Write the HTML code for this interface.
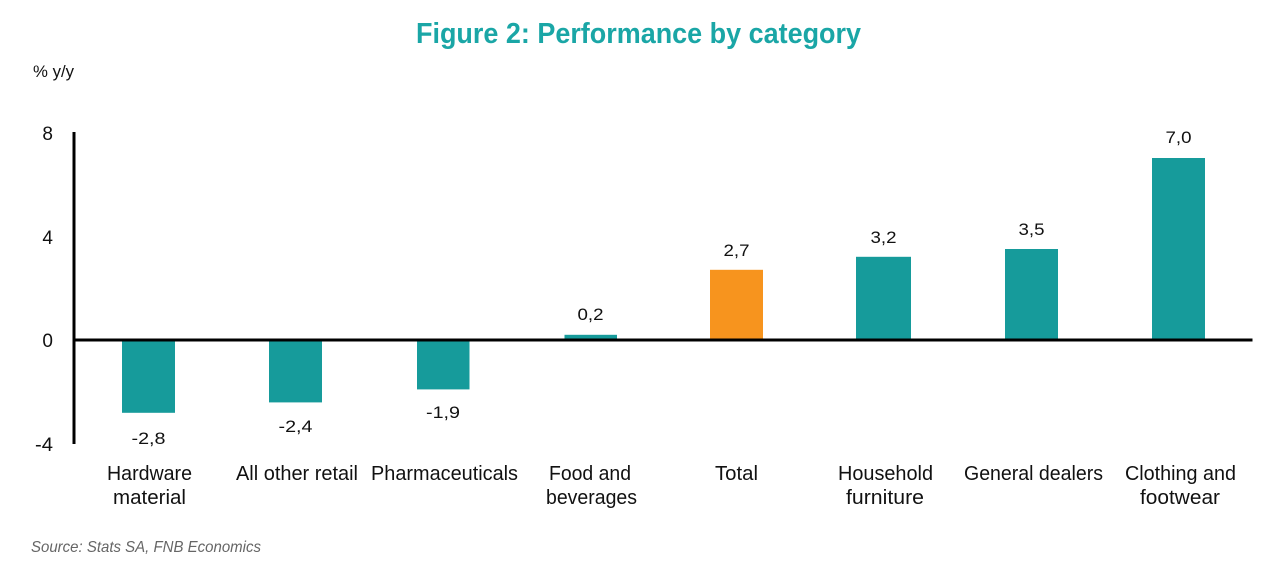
<!DOCTYPE html>
<html>
<head>
<meta charset="utf-8">
<style>
  html, body { margin:0; padding:0; background:#fff; }
  body { width:1280px; height:566px; overflow:hidden; }
  svg { display:block; }
  text { font-family: "Liberation Sans", sans-serif; fill:#111; }
</style>
</head>
<body>
<svg width="1280" height="566" viewBox="0 0 1280 566" xmlns="http://www.w3.org/2000/svg">
  <rect x="0" y="0" width="1280" height="566" fill="#fff"/>
  <!-- Title -->
  <text x="416" y="43" font-size="29" font-weight="bold" style="fill:#1aa6a6" textLength="445" lengthAdjust="spacingAndGlyphs">Figure 2: Performance by category</text>
  <!-- Y unit -->
  <text x="33" y="77" font-size="17" textLength="41" lengthAdjust="spacingAndGlyphs">% y/y</text>

  <!-- Y tick labels -->
  <text x="53" y="140" font-size="19" text-anchor="end">8</text>
  <text x="53" y="244" font-size="19" text-anchor="end">4</text>
  <text x="53" y="347" font-size="19" text-anchor="end">0</text>
  <text x="53" y="451" font-size="19" text-anchor="end" textLength="18" lengthAdjust="spacingAndGlyphs">-4</text>

  <!-- Bars -->
  <g fill="#169b9b">
    <rect x="122" y="340" width="53" height="72.8"/>
    <rect x="269" y="340" width="53" height="62.4"/>
    <rect x="417" y="340" width="52.5" height="49.4"/>
    <rect x="564.5" y="334.8" width="52.5" height="5.2"/>
    <rect x="856" y="256.8" width="55" height="83.2"/>
    <rect x="1005" y="249" width="53" height="91"/>
    <rect x="1152" y="158" width="53" height="182"/>
  </g>
  <rect x="710" y="269.8" width="53" height="70.2" fill="#f7941e"/>

  <!-- Axes -->
  <rect x="72.5" y="132" width="3" height="312" fill="#000"/>
  <rect x="72.5" y="338.5" width="1180" height="3" fill="#000"/>

  <!-- Value labels -->
  <g font-size="17" text-anchor="middle">
    <text x="148.5" y="444" textLength="34" lengthAdjust="spacingAndGlyphs">-2,8</text>
    <text x="295.5" y="432" textLength="34" lengthAdjust="spacingAndGlyphs">-2,4</text>
    <text x="443" y="418" textLength="34" lengthAdjust="spacingAndGlyphs">-1,9</text>
    <text x="590.5" y="320" textLength="26" lengthAdjust="spacingAndGlyphs">0,2</text>
    <text x="736.5" y="256" textLength="26" lengthAdjust="spacingAndGlyphs">2,7</text>
    <text x="883.5" y="243" textLength="26" lengthAdjust="spacingAndGlyphs">3,2</text>
    <text x="1031.5" y="235" textLength="26" lengthAdjust="spacingAndGlyphs">3,5</text>
    <text x="1178.5" y="143" textLength="26" lengthAdjust="spacingAndGlyphs">7,0</text>
  </g>

  <!-- Category labels -->
  <g font-size="20" text-anchor="middle">
    <text x="149.5" y="480" textLength="85" lengthAdjust="spacingAndGlyphs">Hardware</text>
    <text x="149.5" y="504" textLength="73" lengthAdjust="spacingAndGlyphs">material</text>
    <text x="297" y="480" textLength="122" lengthAdjust="spacingAndGlyphs">All other retail</text>
    <text x="444.5" y="480" textLength="147" lengthAdjust="spacingAndGlyphs">Pharmaceuticals</text>
    <text x="590" y="480" textLength="82" lengthAdjust="spacingAndGlyphs">Food and</text>
    <text x="591.5" y="504" textLength="91" lengthAdjust="spacingAndGlyphs">beverages</text>
    <text x="736.5" y="480" textLength="43" lengthAdjust="spacingAndGlyphs">Total</text>
    <text x="885.5" y="480" textLength="95" lengthAdjust="spacingAndGlyphs">Household</text>
    <text x="885" y="504" textLength="78" lengthAdjust="spacingAndGlyphs">furniture</text>
    <text x="1033.5" y="480" textLength="139" lengthAdjust="spacingAndGlyphs">General dealers</text>
    <text x="1180.5" y="480" textLength="111" lengthAdjust="spacingAndGlyphs">Clothing and</text>
    <text x="1180" y="504" textLength="80" lengthAdjust="spacingAndGlyphs">footwear</text>
  </g>

  <!-- Source -->
  <text x="31" y="552" font-size="16" font-style="italic" style="fill:#666" textLength="230" lengthAdjust="spacingAndGlyphs">Source: Stats SA, FNB Economics</text>
</svg>
</body>
</html>
